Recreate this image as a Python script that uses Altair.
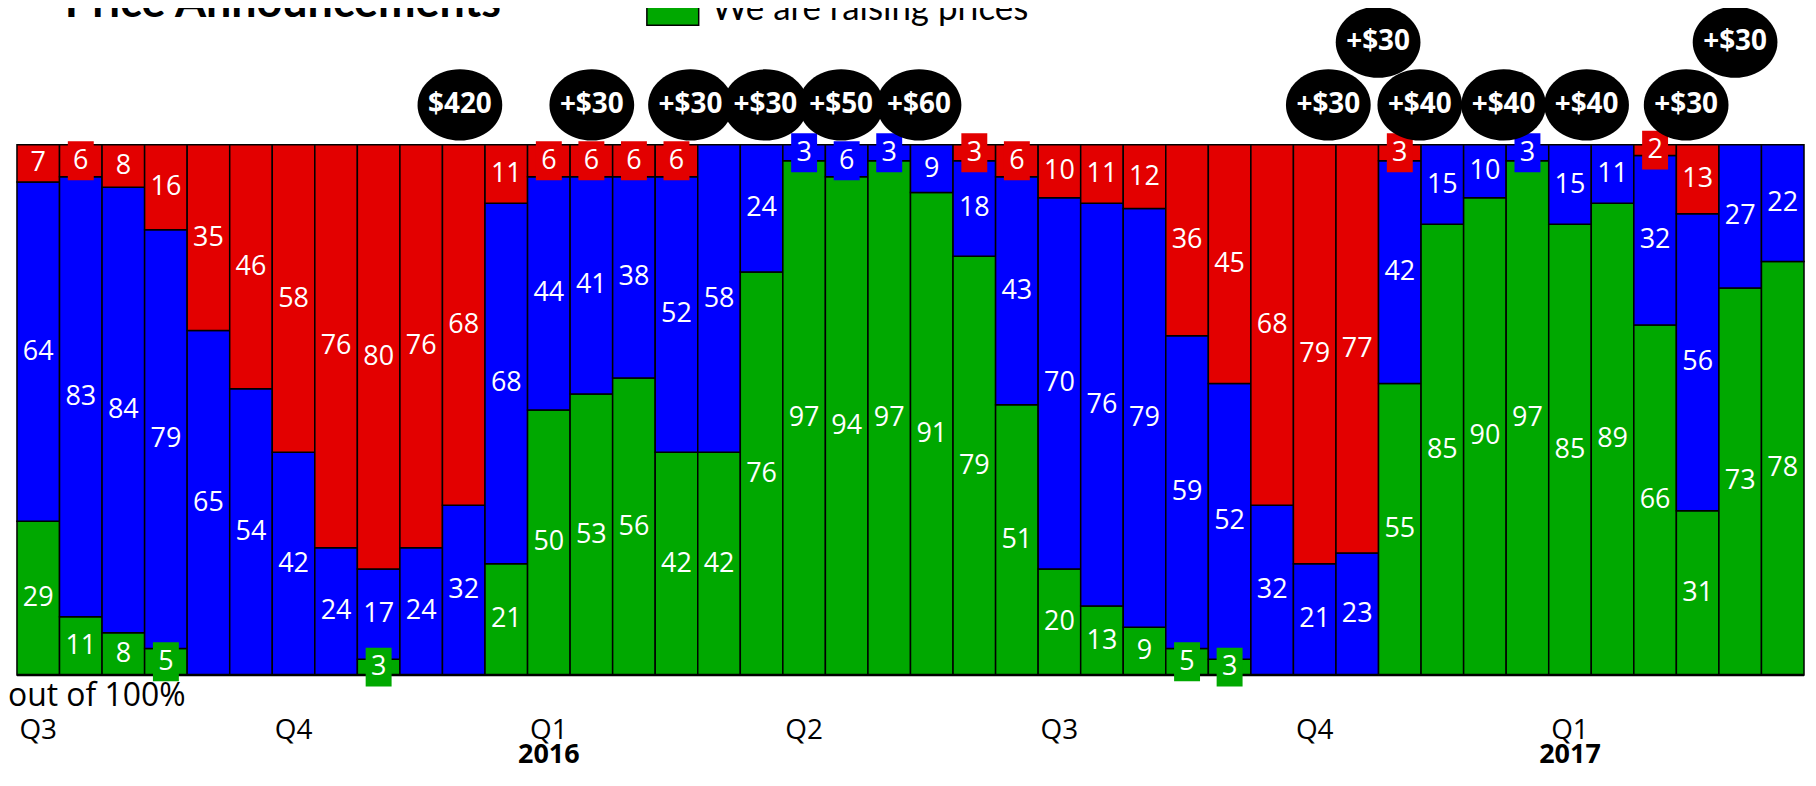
import altair as alt
import pandas as pd

# ---- data ----
green = [29, 11, 8, 5, 0, 0, 0, 0, 3, 0, 0, 21, 50, 53, 56, 42, 42, 76, 97, 94, 97,
         91, 79, 51, 20, 13, 9, 5, 3, 0, 0, 0, 55, 85, 90, 97, 85, 89, 66, 31, 73, 78]
blue = [64, 83, 84, 79, 65, 54, 42, 24, 17, 24, 32, 68, 44, 41, 38, 52, 58, 24, 3, 6, 3,
        9, 18, 43, 70, 76, 79, 59, 52, 32, 21, 23, 42, 15, 10, 3, 15, 11, 32, 56, 27, 22]
red = [7, 6, 8, 16, 35, 46, 58, 76, 80, 76, 68, 11, 6, 6, 6, 6, 0, 0, 0, 0, 0,
       0, 3, 6, 10, 11, 12, 36, 45, 68, 79, 77, 3, 0, 0, 0, 0, 0, 2, 13, 0, 0]

series = ["raise", "same", "lower"]
series_colors = ["#00A800", "#0000FF", "#E30000"]

quarters = ["Q3", "Q4", "Q1", "Q2", "Q3", "Q4", "Q1"]
quarter_bar = [0, 6, 12, 18, 24, 30, 36]
years = ["2016", "2017"]
year_bar = [12, 36]

ann_text = ["$420", "+$30", "+$30", "+$30", "+$50", "+$60", "+$30",
            "+$30", "+$40", "+$40", "+$40", "+$30", "+$30"]
ann_pos = [10.41, 13.51, 15.83, 17.59, 19.37, 21.2, 30.82,
           31.99, 32.97, 34.94, 36.89, 39.23, 40.38]
ann_tier = [0, 0, 0, 0, 0, 0, 0, 1, 0, 0, 0, 0, 1]

n = len(green)
W, H = 1793, 532

rows = []
for i in range(n):
    base = 0
    for s, vals in zip(series, [green, blue, red]):
        v = vals[i]
        if v > 0:
            rows.append(dict(x0=i, x1=i + 1, xc=i + 0.5, y0=base, y1=base + v,
                             ym=base + v / 2, v=v, s=s, small=bool(v <= 6)))
        base += v
seg = pd.DataFrame(rows)

ann = pd.DataFrame({"t": ann_text, "pos": ann_pos, "tier": ann_tier})
qdf = pd.DataFrame({"q": quarters, "c": [b + 0.5 for b in quarter_bar]})
ydf = pd.DataFrame({"yr": years, "c": [b + 0.5 for b in year_bar]})
one = pd.DataFrame({"t": ["We are raising prices"]})

xs = alt.Scale(domain=[0, n], nice=False, zero=False)
ys = alt.Scale(domain=[0, 100], nice=False, zero=True)
cs = alt.Scale(domain=series, range=series_colors)

X0 = alt.X("x0:Q", scale=xs, axis=None)
XC = alt.X("xc:Q", scale=xs, axis=None)
YM = alt.Y("ym:Q", scale=ys, axis=None)
COL = alt.Color("s:N", scale=cs, legend=None)

bars = alt.Chart(seg).mark_rect(stroke="black", strokeWidth=1.5).encode(
    x=X0, x2="x1:Q", y=alt.Y("y0:Q", scale=ys, axis=None), y2="y1:Q", color=COL)

baseline = alt.Chart(one).mark_rule(color="black", strokeWidth=2.5).encode(
    x=alt.value(0), x2=alt.value(W), y=alt.value(H))

box_path = "M -0.667 -1 L 0.667 -1 L 0.667 1 L -0.667 1 Z"
boxes = alt.Chart(seg).transform_filter("datum.small").mark_point(
    shape=box_path, size=1521, filled=True, opacity=1, strokeWidth=0).encode(
    x=XC, y=YM, color=COL)

labels = alt.Chart(seg).mark_text(
    color="white", font="Open Sans", fontSize=27, baseline="middle", align="center").encode(
    x=XC, y=YM, text="v:Q")

k = 0.5523
ry = 0.84
ell_path = (f"M 1 0 C 1 {ry*k:.4f} {k} {ry} 0 {ry} C {-k} {ry} -1 {ry*k:.4f} -1 0 "
            f"C -1 {-ry*k:.4f} {-k} {-ry} 0 {-ry} C {k} {-ry} 1 {-ry*k:.4f} 1 0 Z")

XA = alt.X("pos:Q", scale=xs, axis=None)
ell_lo = alt.Chart(ann).transform_filter("datum.tier == 0").mark_point(
    shape=ell_path, size=7225, filled=True, color="black", opacity=1, strokeWidth=0).encode(
    x=XA, y=alt.value(-40))
ell_hi = alt.Chart(ann).transform_filter("datum.tier == 1").mark_point(
    shape=ell_path, size=7225, filled=True, color="black", opacity=1, strokeWidth=0).encode(
    x=XA, y=alt.value(-103))
txt_lo = alt.Chart(ann).transform_filter("datum.tier == 0").mark_text(
    color="white", font="Open Sans", fontWeight="bold", fontSize=28, baseline="middle").encode(
    x=XA, y=alt.value(-40), text="t:N")
txt_hi = alt.Chart(ann).transform_filter("datum.tier == 1").mark_text(
    color="white", font="Open Sans", fontWeight="bold", fontSize=28, baseline="middle").encode(
    x=XA, y=alt.value(-103), text="t:N")

qtext = alt.Chart(qdf).mark_text(
    font="Open Sans", fontSize=28, color="black", baseline="alphabetic").encode(
    x=alt.X("c:Q", scale=xs, axis=None), y=alt.value(596), text="q:N")
ytext = alt.Chart(ydf).mark_text(
    font="Open Sans", fontSize=27, fontWeight="bold", color="black", baseline="alphabetic").encode(
    x=alt.X("c:Q", scale=xs, axis=None), y=alt.value(620), text="yr:N")
outof = alt.Chart(one).mark_text(
    font="Open Sans", fontSize=32, color="black", align="left", baseline="alphabetic",
    text="out of 100%").encode(x=alt.value(-9), y=alt.value(563))

title = alt.Chart(one).mark_text(
    font="Lato", fontSize=45, fontWeight="bold", color="black", align="left",
    baseline="alphabetic", text="Price Announcements").encode(
    x=alt.value(48), y=alt.value(-128))
leg_sq = alt.Chart(one).mark_rect(color="#00A800", stroke="black", strokeWidth=1.5).encode(
    x=alt.value(632), x2=alt.value(684), y=alt.value(-200), y2=alt.value(-120))
leg_tx = alt.Chart(one).mark_text(
    font="Lato", fontSize=35, color="black", align="left", baseline="alphabetic").encode(
    x=alt.value(697), y=alt.value(-125), text="t:N")

chart = alt.layer(
    bars, baseline, boxes, labels, ell_lo, ell_hi, txt_lo, txt_hi,
    qtext, ytext, outof, title, leg_sq, leg_tx
).properties(
    width=W, height=H,
    autosize=alt.AutoSizeParams(type="none"),
    padding={"left": 9, "top": 136, "right": 4, "bottom": 94},
).configure_view(stroke=None)

chart.save("out.html", embed_options={"renderer": "svg", "actions": False})
